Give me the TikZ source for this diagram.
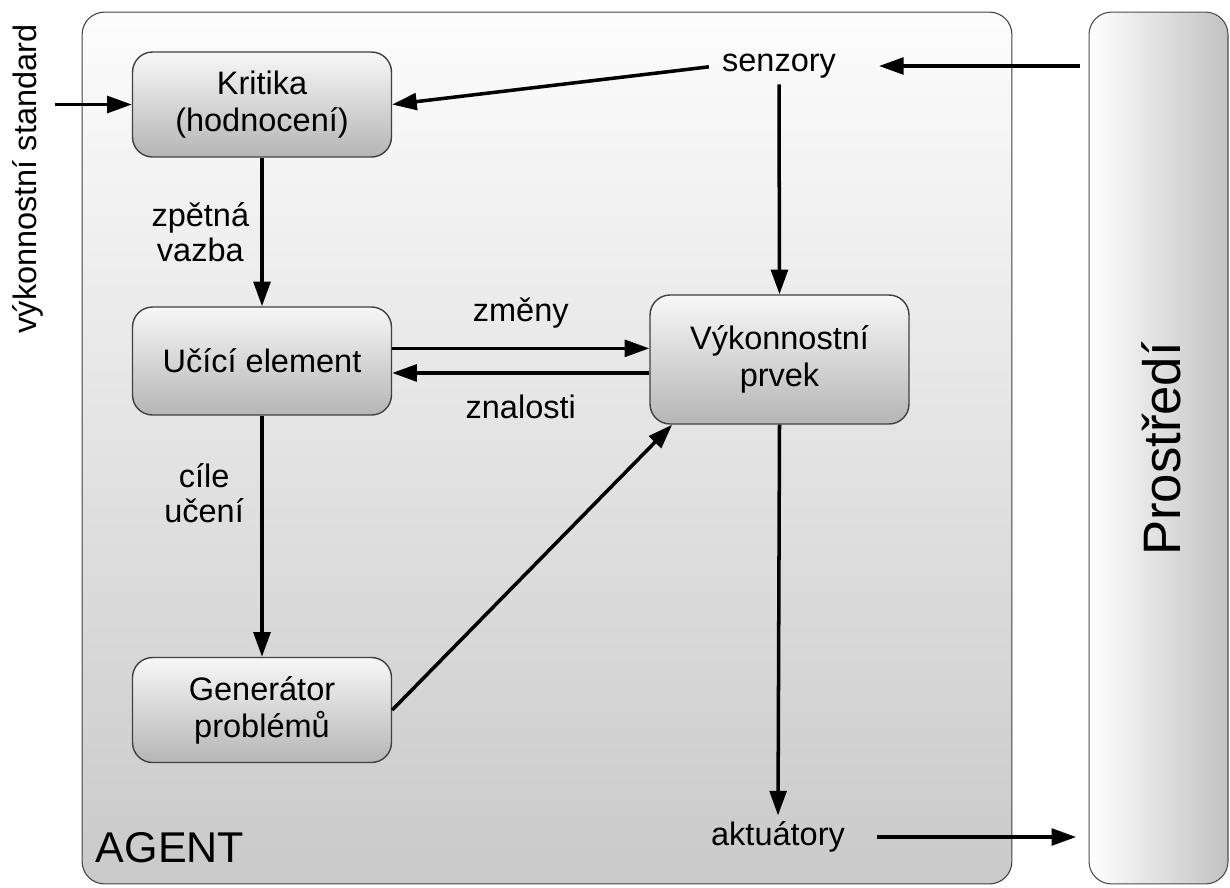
\documentclass[tikz,border=0pt]{standalone}
\usepackage{fontspec}
\setmainfont{Liberation Sans}
\usetikzlibrary{arrows.meta,positioning,backgrounds}

\begin{document}
\begin{tikzpicture}[x=0.02cm,y=-0.02cm,
    blok/.style={draw=black!75, line width=0.8pt, rounded corners=0.4cm,
      top color=gray!6, bottom color=gray!58, minimum width=5.18cm,
      minimum height=2.1cm, align=center, font=\fontsize{18.5}{21}\selectfont},
    popis/.style={align=center, font=\fontsize{18.5}{20}\selectfont},
    sipka/.style={line width=2pt, -{Triangle[length=14pt,width=9.5pt]}}]
  \useasboundingbox (0,0) rectangle (1230,887);

  % prostredi a agent
  \node[draw=black!70, line width=0.6pt, rounded corners=0.45cm, left color=white,
    right color=gray!48, minimum width=2.78cm, minimum height=17.44cm] (env) at (1158.5,448) {};
  \node[rotate=90, font=\fontsize{30}{36}\selectfont] (envtext) at (1161,449) {Prostředí};
  \node[draw=black!75, line width=0.6pt, rounded corners=0.45cm, top color=gray!2,
    bottom color=gray!42, minimum width=18.6cm, minimum height=17.44cm] (agent) at (547,448) {};
  \node[font=\fontsize{24.5}{28}\selectfont] (agentlabel) at (170,848) {AGENT};

  % bloky
  \node[blok] (krit) at (262,104.5) {Kritika\\(hodnocení)};
  \node[blok, minimum height=2.16cm] (uce) at (262,361) {Učící element};
  \node[blok] (gen) at (262,710) {Generátor\\problémů};
  \node[blok, minimum height=2.58cm] (vyk) at (779.5,359.5) {Výkonnostní\\prvek};

  % popisky
  \node[popis] (senzory) at (779,66) {senzory};
  \node[popis] (akt) at (778,837) {aktuátory};
  \node[popis, rotate=90] (standard) at (28,179) {výkonnostní standard};
  \coordinate (stdout) at (55,104.5);

  % sipky
  \draw[sipka] (stdout) -- (krit.west);
  \draw[sipka, shorten <=4pt] (senzory.west) -- (krit.east);
  \draw[sipka, shorten <=5pt, shorten >=21pt] (senzory.east -| env.west) -- (senzory.east);
  \draw[sipka] (senzory.south) -- (vyk.north);
  \draw[sipka] (krit.south) -- node[popis, left=3pt] (lzv) {zpětná\\vazba} (uce.north);
  \draw[sipka] ([yshift=7.2pt]uce.east) -- node[popis, above=7pt] (lzm) {změny}
    ([yshift=7.2pt]uce.east -| vyk.west);
  \draw[sipka] ([yshift=-6.8pt]uce.east -| vyk.west) -- node[popis, below=8pt] (lzn) {znalosti}
    ([yshift=-6.8pt]uce.east);
  \draw[sipka] (uce.south) -- node[popis, left=6pt, pos=0.32] (lcu) {cíle\\učení} (gen.north);
  \draw[sipka] (gen.east) -- ([xshift=13pt]vyk.south west);
  \draw[sipka] (vyk.south) -- (akt.north);
  \draw[sipka, shorten <=15pt, shorten >=7pt] (akt.east) -- (akt.east -| env.west);
\end{tikzpicture}
\end{document}
